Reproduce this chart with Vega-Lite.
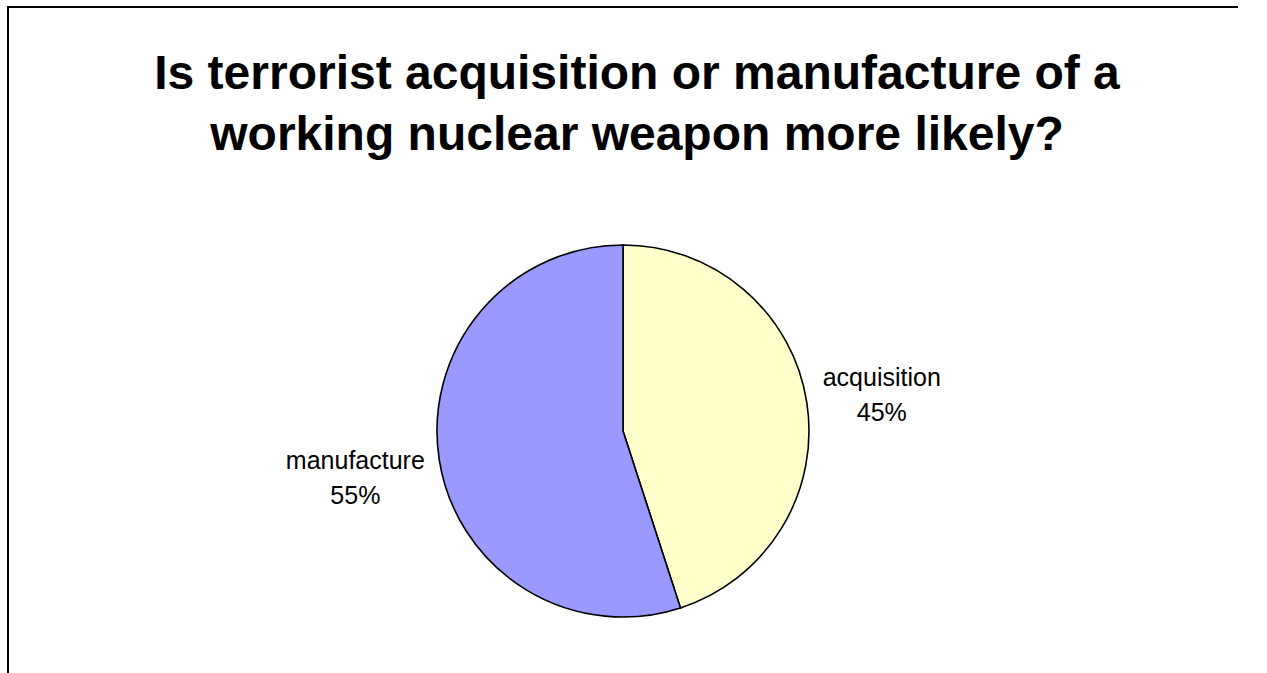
{
  "$schema": "https://vega.github.io/schema/vega-lite/v6.json",
  "autosize": {"type": "none"},
  "width": 1230,
  "height": 848,
  "padding": {"left": 8, "top": 7, "right": 29, "bottom": 0},
  "background": "white",
  "view": {"stroke": "#000000", "strokeWidth": 2, "fill": "white", "strokeDash": [1230, 2078, 848]},
  "title": {
    "text": ["Is terrorist acquisition or manufacture of a", "working nuclear weapon more likely?"],
    "orient": "top",
    "anchor": "middle",
    "frame": "group",
    "offset": -191,
    "dx": 14,
    "baseline": "alphabetic",
    "lineHeight": 61,
    "font": "Arial, Liberation Sans, sans-serif",
    "fontSize": 48,
    "fontWeight": "bold",
    "color": "#000000"
  },
  "data": {
    "values": [
      {"answer": "acquisition", "percent": 45, "label": ["acquisition", "45%"]},
      {"answer": "manufacture", "percent": 55, "label": ["manufacture", "55%"]}
    ]
  },
  "encoding": {
    "theta": {"field": "percent", "type": "quantitative", "stack": true},
    "detail": {"field": "answer", "type": "nominal"},
    "order": {"field": "answer", "type": "nominal", "sort": "ascending"}
  },
  "layer": [
    {
      "mark": {"type": "arc", "outerRadius": 186, "stroke": "#000000", "strokeWidth": 1.6},
      "encoding": {
        "color": {
          "field": "answer",
          "type": "nominal",
          "scale": {"domain": ["acquisition", "manufacture"], "range": ["#FFFFCC", "#9999FF"]},
          "legend": null
        }
      }
    },
    {
      "mark": {
        "type": "text",
        "font": "Arial, Liberation Sans, sans-serif",
        "fontSize": 25,
        "lineHeight": 35,
        "align": "center",
        "baseline": "middle",
        "dy": -12,
        "fill": "#000000"
      },
      "encoding": {
        "text": {"field": "label"},
        "radius": {
          "field": "percent",
          "type": "quantitative",
          "scale": {"type": "linear", "zero": false, "domain": [45, 55], "range": [262, 271]}
        }
      }
    }
  ]
}
